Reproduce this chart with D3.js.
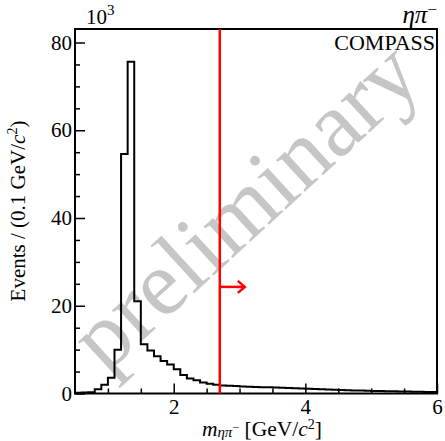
<!DOCTYPE html>
<html>
<head>
<meta charset="utf-8">
<script src="https://cdn.jsdelivr.net/npm/d3@7"></script>
<style>
  html, body { margin: 0; padding: 0; background: #fff; }
  svg { display: block; font-family: "Liberation Serif", "DejaVu Serif", serif; }
</style>
</head>
<body>
<svg id="chart" width="445" height="441"></svg>
<script>
// eta pi- invariant mass spectrum, 0.1 GeV/c^2 bins, counts in units of 10^3
const binLow = [
  0.5, 0.6, 0.7, 0.8, 0.9, 1.0, 1.1, 1.2, 1.3, 1.4,
  1.5, 1.6, 1.7, 1.8, 1.9, 2.0, 2.1, 2.2, 2.3, 2.4,
  2.5, 2.6, 2.7, 2.8, 2.9, 3.0, 3.1, 3.2, 3.3, 3.4,
  3.5, 3.6, 3.7, 3.8, 3.9, 4.0, 4.1, 4.2, 4.3, 4.4,
  4.5, 4.6, 4.7, 4.8, 4.9, 5.0, 5.1, 5.2, 5.3, 5.4,
  5.5, 5.6, 5.7, 5.8, 5.9
];
const events = [
  0.15, 0.2, 0.3, 0.95, 2.0, 3.6, 10.0, 54.6, 75.6, 21.0,
  11.2, 9.8, 8.5, 7.4, 6.6, 5.5, 4.2, 3.4, 3.0, 2.5,
  2.2, 2.0, 1.85, 1.75, 1.7, 1.62, 1.55, 1.5, 1.45, 1.4,
  1.35, 1.3, 1.25, 1.2, 1.15, 1.1, 1.02, 0.95, 0.9, 0.85,
  0.8, 0.75, 0.7, 0.66, 0.62, 0.58, 0.55, 0.52, 0.49, 0.46,
  0.43, 0.4, 0.38, 0.36, 0.34
];
const binWidth = 0.1;
const xMajorTicks = [2, 4, 6];
const xMinorTicks = [1, 1.5, 2.5, 3, 3.5, 4.5, 5, 5.5];
const yMajorTicks = [0, 20, 40, 60, 80];
const yMinorTicks = [5, 10, 15, 25, 30, 35, 45, 50, 55, 65, 70, 75];
const cutValue = 2.7;      // mass cut, GeV/c^2
const arrowY = 24.3;       // height of the cut arrow, 10^3 events
const arrowLength = 0.38;  // GeV/c^2

const svg = d3.select("#chart");
const m = { left: 75, right: 437, top: 29, bottom: 393.5 };

const x = d3.scaleLinear().domain([0.5, 6]).range([m.left, m.right]);
const y = d3.scaleLinear().domain([0, 83.08]).range([m.bottom, m.top]);

// watermark
svg.append("text")
  .attr("transform", `translate(${x(0.96)},${y(4.3)}) rotate(-42.5)`)
  .attr("font-size", 93)
  .attr("fill", "#c6c6c6")
  .text("preliminary");

// histogram outline as a step path
const bins = binLow.map((lo, i) => ({ lo, hi: lo + binWidth, v: events[i] }));
let d = `M${x(bins[0].lo)},${y(0)}`;
bins.forEach(b => { d += `L${x(b.lo)},${y(b.v)}L${x(b.hi)},${y(b.v)}`; });
d += `L${x(bins[bins.length - 1].hi)},${y(0)}`;
svg.append("path")
  .attr("d", d)
  .attr("fill", "none")
  .attr("stroke", "#000")
  .attr("stroke-width", 2)
  .attr("stroke-linejoin", "miter");

// axes with inward ticks
const xAxis = svg.append("g").attr("transform", `translate(0,${m.bottom})`);
xAxis.call(d3.axisBottom(x).tickValues(xMajorTicks).tickSize(-10).tickPadding(6).tickFormat(d3.format("d")));
xAxis.call(g => g.select(".domain").remove());
xAxis.selectAll(".tick line").attr("stroke", "#000").attr("stroke-width", 1.5);
xAxis.selectAll(".tick text").attr("font-size", 21).attr("fill", "#000")
  .attr("font-family", "Liberation Serif").attr("dy", "0.71em");
const xMinor = svg.append("g").attr("transform", `translate(0,${m.bottom})`);
xMinor.call(d3.axisBottom(x).tickValues(xMinorTicks).tickSize(-5).tickFormat(""));
xMinor.call(g => g.select(".domain").remove());
xMinor.selectAll(".tick line").attr("stroke", "#000").attr("stroke-width", 1.5);

const yAxis = svg.append("g").attr("transform", `translate(${m.left},0)`);
yAxis.call(d3.axisLeft(y).tickValues(yMajorTicks).tickSize(-10).tickPadding(3).tickFormat(d3.format("d")));
yAxis.call(g => g.select(".domain").remove());
yAxis.selectAll(".tick line").attr("stroke", "#000").attr("stroke-width", 1.5);
yAxis.selectAll(".tick text").attr("font-size", 21).attr("fill", "#000")
  .attr("font-family", "Liberation Serif");
const yMinor = svg.append("g").attr("transform", `translate(${m.left},0)`);
yMinor.call(d3.axisLeft(y).tickValues(yMinorTicks).tickSize(-5).tickFormat(""));
yMinor.call(g => g.select(".domain").remove());
yMinor.selectAll(".tick line").attr("stroke", "#000").attr("stroke-width", 1.5);

// frame
svg.append("rect")
  .attr("x", m.left).attr("y", m.top)
  .attr("width", m.right - m.left).attr("height", m.bottom - m.top)
  .attr("fill", "none").attr("stroke", "#000").attr("stroke-width", 2);

// cut line and arrow
const red = "#ff0000";
svg.append("line")
  .attr("x1", x(cutValue)).attr("x2", x(cutValue))
  .attr("y1", m.top).attr("y2", m.bottom)
  .attr("stroke", red).attr("stroke-width", 2.5);
const ax0 = x(cutValue), ax1 = x(cutValue + arrowLength), ay = y(arrowY);
svg.append("line")
  .attr("x1", ax0).attr("x2", ax1).attr("y1", ay).attr("y2", ay)
  .attr("stroke", red).attr("stroke-width", 2.5);
svg.append("path")
  .attr("d", `M${ax1 - 7},${ay - 6}L${ax1},${ay}L${ax1 - 7},${ay + 6}`)
  .attr("fill", "none").attr("stroke", red).attr("stroke-width", 2.5);

// exponent label
const exp = svg.append("text").attr("x", 86).attr("y", 24).attr("font-size", 21).attr("fill", "#000");
exp.append("tspan").text("10");
exp.append("tspan").attr("dy", -9).attr("font-size", 15).text("3");

// channel label
const chan = svg.append("text").attr("x", 437).attr("y", 23).attr("text-anchor", "end")
  .attr("font-size", 25).attr("font-style", "italic").attr("fill", "#000");
chan.append("tspan").text("ηπ");
chan.append("tspan").attr("dy", -8).attr("font-size", 17).attr("font-style", "normal").text("−");

svg.append("text")
  .attr("x", 435).attr("y", 50).attr("text-anchor", "end")
  .attr("font-size", 22).attr("fill", "#000")
  .text("COMPASS");

// axis titles
const yt = svg.append("text")
  .attr("transform", `translate(25,211) rotate(-90)`)
  .attr("text-anchor", "middle").attr("font-size", 21).attr("fill", "#000");
yt.append("tspan").text("Events / (0.1 GeV/");
yt.append("tspan").attr("font-style", "italic").text("c");
yt.append("tspan").attr("dy", -8).attr("font-size", 14).text("2");
yt.append("tspan").attr("dy", 8).text(")");

const xt = svg.append("text")
  .attr("x", 322).attr("y", 435.5).attr("text-anchor", "end")
  .attr("font-size", 21.5).attr("fill", "#000");
xt.append("tspan").attr("font-style", "italic").text("m");
xt.append("tspan").attr("dy", 1.5).attr("font-size", 15).attr("font-style", "italic").text("ηπ");
xt.append("tspan").attr("dy", -6).attr("font-size", 12).text("−");
xt.append("tspan").attr("dy", 4.5).text(" [GeV/");
xt.append("tspan").attr("font-style", "italic").text("c");
xt.append("tspan").attr("dy", -7).attr("font-size", 14).text("2");
xt.append("tspan").attr("dy", 7).text("]");
</script>
</body>
</html>
